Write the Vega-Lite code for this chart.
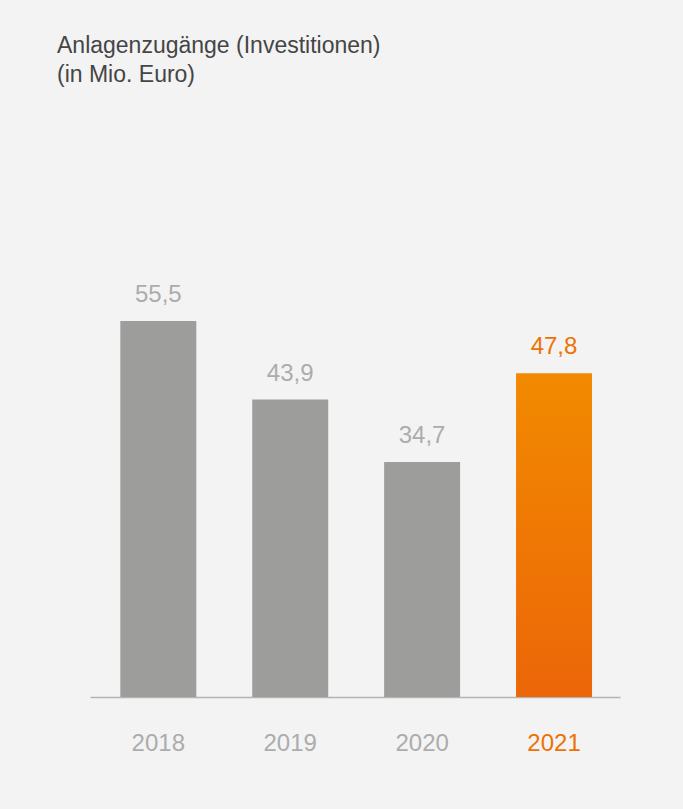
{
  "$schema": "https://vega.github.io/schema/vega-lite/v6.json",
  "autosize": "none",
  "width": 530,
  "height": 406.5,
  "padding": {"left": 90, "top": 290.5, "right": 63, "bottom": 112},
  "background": "#f3f3f3",
  "title": {
    "text": ["Anlagenzugänge (Investitionen)", "(in Mio. Euro)"],
    "anchor": "start",
    "frame": "group",
    "dx": -33,
    "offset": 196,
    "font": "Liberation Sans",
    "fontSize": 23,
    "fontWeight": "normal",
    "color": "#454545",
    "lineHeight": 29
  },
  "config": {
    "view": {"stroke": null},
    "font": "Liberation Sans"
  },
  "data": {
    "values": [
      {"year": "2018", "value": 55.5, "label": "55,5"},
      {"year": "2019", "value": 43.9, "label": "43,9"},
      {"year": "2020", "value": 34.7, "label": "34,7"},
      {"year": "2021", "value": 47.8, "label": "47,8"}
    ]
  },
  "encoding": {
    "x": {
      "field": "year",
      "type": "nominal",
      "sort": null,
      "scale": {"paddingInner": 0.424, "paddingOuter": 0.221, "align": 0.52},
      "axis": {
        "title": null,
        "labelAngle": 0,
        "ticks": false,
        "domainColor": "#b4b4b4",
        "domainWidth": 1.5,
        "labelFontSize": 24,
        "labelFont": "Liberation Sans",
        "labelPadding": 34,
        "labelColor": {"condition": {"test": "datum.value === '2021'", "value": "#ee7203"}, "value": "#acacac"}
      }
    },
    "y": {
      "field": "value",
      "type": "quantitative",
      "scale": {"domain": [0, 60], "nice": false},
      "axis": null
    }
  },
  "layer": [
    {
      "mark": {"type": "bar"},
      "encoding": {
        "color": {
          "condition": {
            "test": "datum.year === '2021'",
            "value": {
              "gradient": "linear",
              "x1": 0, "y1": 0, "x2": 0, "y2": 1,
              "stops": [
                {"offset": 0, "color": "#f28a00"},
                {"offset": 1, "color": "#ec6608"}
              ]
            }
          },
          "value": "#9d9d9b"
        }
      }
    },
    {
      "mark": {"type": "text", "dy": -19, "baseline": "alphabetic", "fontSize": 24, "font": "Liberation Sans"},
      "encoding": {
        "text": {"field": "label"},
        "color": {
          "condition": {"test": "datum.year === '2021'", "value": "#ee7203"},
          "value": "#acacac"
        }
      }
    }
  ]
}
